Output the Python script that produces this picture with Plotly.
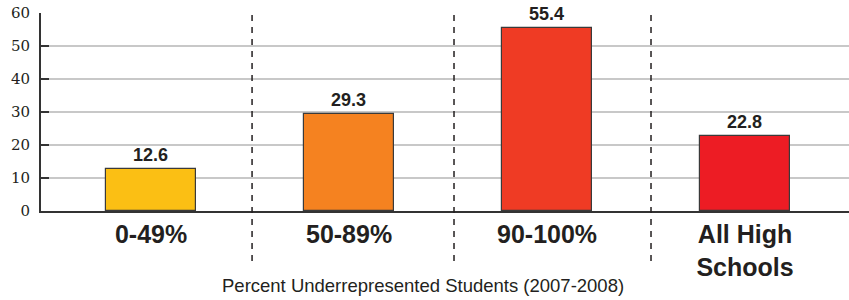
import plotly.graph_objects as go

categories = ["0-49%", "50-89%", "90-100%", "All High<br>Schools"]
values = [12.6, 29.3, 55.4, 22.8]
colors = ["#FBBF14", "#F58220", "#EF3B24", "#ED1C24"]
y_ticks = [0, 10, 20, 30, 40, 50, 60]
x_title = "Percent Underrepresented Students (2007-2008)"
divider_positions = [0.51, 1.53, 2.525]

xpos = list(range(len(categories)))

fig = go.Figure()
fig.add_trace(go.Bar(
    x=xpos, y=values, width=0.455,
    marker=dict(color=colors, line=dict(color="#3a3a3a", width=1.2)),
    text=[f"{v:.1f}" for v in values], textposition="outside",
    textfont=dict(family="Liberation Sans", size=18, color="#231f20", weight="bold"),
    cliponaxis=False, hoverinfo="skip",
))

for d in divider_positions:
    fig.add_shape(type="line", xref="x", yref="paper", x0=d, x1=d, y0=-0.253, y1=1,
                  line=dict(color="#231f20", width=1.5, dash="6px,6px"))

fig.add_annotation(text=x_title, xref="paper", yref="paper", x=(423 - 41) / 808, y=-(285 - 211) / 198,
                   xanchor="center", yanchor="middle", showarrow=False,
                   font=dict(family="Liberation Sans, Arial", size=18.5, color="#231f20"))

fig.update_layout(
    width=849, height=300,
    margin=dict(l=41, r=0, t=13, b=89),
    plot_bgcolor="white", paper_bgcolor="white",
    showlegend=False,
    xaxis=dict(
        range=[-0.556, 3.525], tickmode="array", tickvals=xpos, ticktext=categories,
        tickfont=dict(family="Liberation Sans", size=25, color="#231f20", weight="bold"),
        showline=True, linecolor="#333", linewidth=2, showgrid=False, ticks="", zeroline=False,
        automargin=False,
    ),
    yaxis=dict(
        range=[0, 60], tickmode="array", tickvals=y_ticks,
        tickfont=dict(family="DejaVu Serif", size=15, color="#231f20"),
        showline=True, linecolor="#333", linewidth=2,
        ticks="inside", ticklen=8, tickwidth=2, tickcolor="#333",
        showgrid=True, gridcolor="#c8c8c8", gridwidth=1.5, zeroline=False,
        automargin=False, ticklabelstandoff=6,
    ),
    bargap=0,
)

fig.write_html("out.html", config={"displayModeBar": False},
               post_script="document.body.style.margin='0';document.body.style.overflow='hidden';")
